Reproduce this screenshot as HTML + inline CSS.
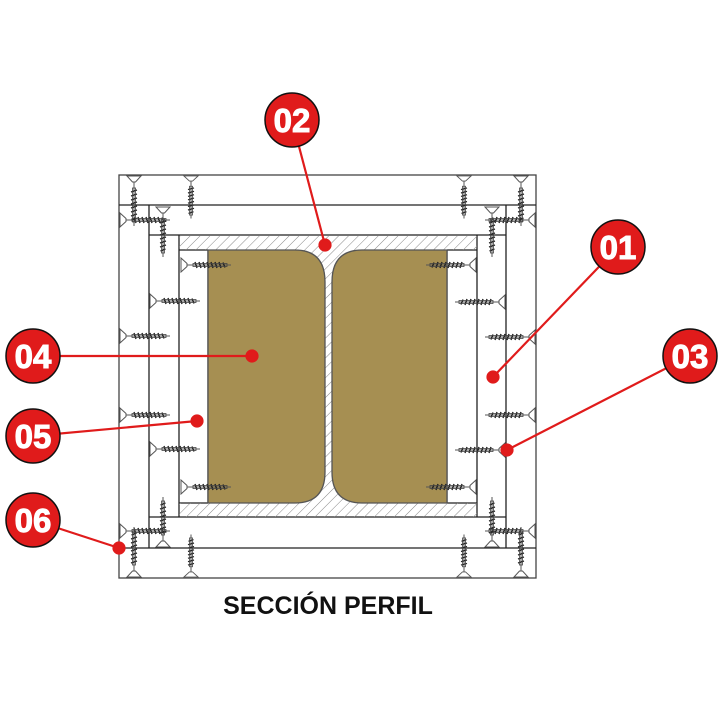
<!DOCTYPE html>
<html><head><meta charset="utf-8"><style>
html,body{margin:0;padding:0;background:#fff;}
svg{display:block;}
</style></head><body>
<svg width="720" height="720" viewBox="0 0 720 720" xmlns="http://www.w3.org/2000/svg">
<defs>
<pattern id="h" patternUnits="userSpaceOnUse" width="7" height="7" patternTransform="rotate(45)">
<line x1="0" y1="0" x2="0" y2="7" stroke="#888" stroke-width="1"/>
</pattern>
<g id="s">
<polygon points="0,-7 0,7 6,1.5 6,-1.5" fill="#fff" stroke="#555" stroke-width="1"/>
<line x1="6" y1="0" x2="50" y2="0" stroke="#555" stroke-width="1"/>
<path d="M14,-3 L16,3 M18,-3 L20,3 M22,-3 L24,3 M26,-3 L28,3 M30,-3 L32,3 M34,-3 L36,3 M38,-3 L40,3 M42,-2.5 L44,2.5" stroke="#222" stroke-width="1.4" fill="none"/>
<rect x="12" y="-1.5" width="34" height="3" fill="none" stroke="#444" stroke-width="0.8"/>
</g>
</defs>
<g fill="none" stroke="#222" stroke-width="1.3">
<rect x="119" y="175" width="417" height="403" stroke="#444"/>
<line x1="119" y1="205" x2="536" y2="205"/>
<line x1="119" y1="548" x2="536" y2="548"/>
<line x1="149" y1="205" x2="149" y2="548"/>
<line x1="506" y1="205" x2="506" y2="548"/>
<line x1="149" y1="235" x2="506" y2="235"/>
<line x1="149" y1="517" x2="506" y2="517"/>
<line x1="179" y1="235" x2="179" y2="517"/>
<line x1="477" y1="235" x2="477" y2="517"/>
<line x1="179" y1="250" x2="208" y2="250"/>
<line x1="447" y1="250" x2="477" y2="250"/>
<line x1="179" y1="503" x2="208" y2="503"/>
<line x1="447" y1="503" x2="477" y2="503"/>
<line x1="208" y1="250" x2="208" y2="503"/>
<line x1="447" y1="250" x2="447" y2="503"/>
</g>
<rect x="179" y="236" width="298" height="14" fill="url(#h)"/>
<rect x="179" y="503" width="298" height="14" fill="url(#h)"/>
<rect x="300" y="250" width="55" height="253" fill="url(#h)"/>
<path d="M208,250 H295 Q325,250 325,282 V472 Q325,503 295,503 H208 Z" fill="#a68f52" stroke="#555" stroke-width="1.3"/>
<path d="M447,250 H362 Q332,250 332,282 V472 Q332,503 362,503 H447 Z" fill="#a68f52" stroke="#555" stroke-width="1.3"/>
<use href="#s" transform="translate(120,220)"/>
<use href="#s" transform="translate(181,265)"/>
<use href="#s" transform="translate(150,301)"/>
<use href="#s" transform="translate(120,336)"/>
<use href="#s" transform="translate(120,415)"/>
<use href="#s" transform="translate(150,449)"/>
<use href="#s" transform="translate(181,487)"/>
<use href="#s" transform="translate(120,531)"/>
<use href="#s" transform="translate(535,220) scale(-1,1)"/>
<use href="#s" transform="translate(476,265) scale(-1,1)"/>
<use href="#s" transform="translate(505,302) scale(-1,1)"/>
<use href="#s" transform="translate(535,337) scale(-1,1)"/>
<use href="#s" transform="translate(535,415) scale(-1,1)"/>
<use href="#s" transform="translate(505,450) scale(-1,1)"/>
<use href="#s" transform="translate(476,487) scale(-1,1)"/>
<use href="#s" transform="translate(535,531) scale(-1,1)"/>
<use href="#s" transform="translate(134,176) rotate(90)"/>
<use href="#s" transform="translate(191,176) rotate(90) scale(0.85,1)"/>
<use href="#s" transform="translate(163,207) rotate(90)"/>
<use href="#s" transform="translate(521,176) rotate(90)"/>
<use href="#s" transform="translate(464,176) rotate(90) scale(0.85,1)"/>
<use href="#s" transform="translate(492,207) rotate(90)"/>
<use href="#s" transform="translate(134,577) rotate(-90)"/>
<use href="#s" transform="translate(191,577) rotate(-90) scale(0.85,1)"/>
<use href="#s" transform="translate(163,547) rotate(-90)"/>
<use href="#s" transform="translate(521,577) rotate(-90)"/>
<use href="#s" transform="translate(464,577) rotate(-90) scale(0.85,1)"/>
<use href="#s" transform="translate(492,547) rotate(-90)"/>
<g stroke="#e01b1b" stroke-width="2.2" fill="#e01b1b">
<line x1="292" y1="120" x2="325" y2="245"/><circle cx="325" cy="245" r="5.5"/>
<line x1="33" y1="356" x2="252" y2="356"/><circle cx="252" cy="356" r="5.5"/>
<line x1="33" y1="436" x2="197" y2="421"/><circle cx="197" cy="421" r="5.5"/>
<line x1="33" y1="520" x2="119" y2="548"/><circle cx="119" cy="548" r="5.5"/>
<line x1="618" y1="247" x2="493" y2="377"/><circle cx="493" cy="377" r="5.5"/>
<line x1="690" y1="356" x2="507" y2="450"/><circle cx="507" cy="450" r="5.5"/>
</g>
<g font-family="Liberation Sans, sans-serif" font-weight="bold" font-size="33" fill="#fff" text-anchor="middle">
<g stroke="#111" stroke-width="1.5" fill="#e01b1b">
<circle cx="292" cy="120" r="27"/><circle cx="618" cy="247" r="27"/><circle cx="690" cy="356" r="27"/>
<circle cx="33" cy="356" r="27"/><circle cx="33" cy="436" r="27"/><circle cx="33" cy="520" r="27"/>
</g>
<g stroke="#fff" stroke-width="1">
<text x="292" y="132">02</text><text x="618" y="259">01</text><text x="690" y="368">03</text>
<text x="33" y="368">04</text><text x="33" y="448">05</text><text x="33" y="532">06</text>
</g>
</g>
<text x="328" y="614" font-family="Liberation Sans, sans-serif" font-weight="bold" font-size="25" fill="#111" text-anchor="middle">SECCIÓN PERFIL</text>
</svg>
</body></html>
